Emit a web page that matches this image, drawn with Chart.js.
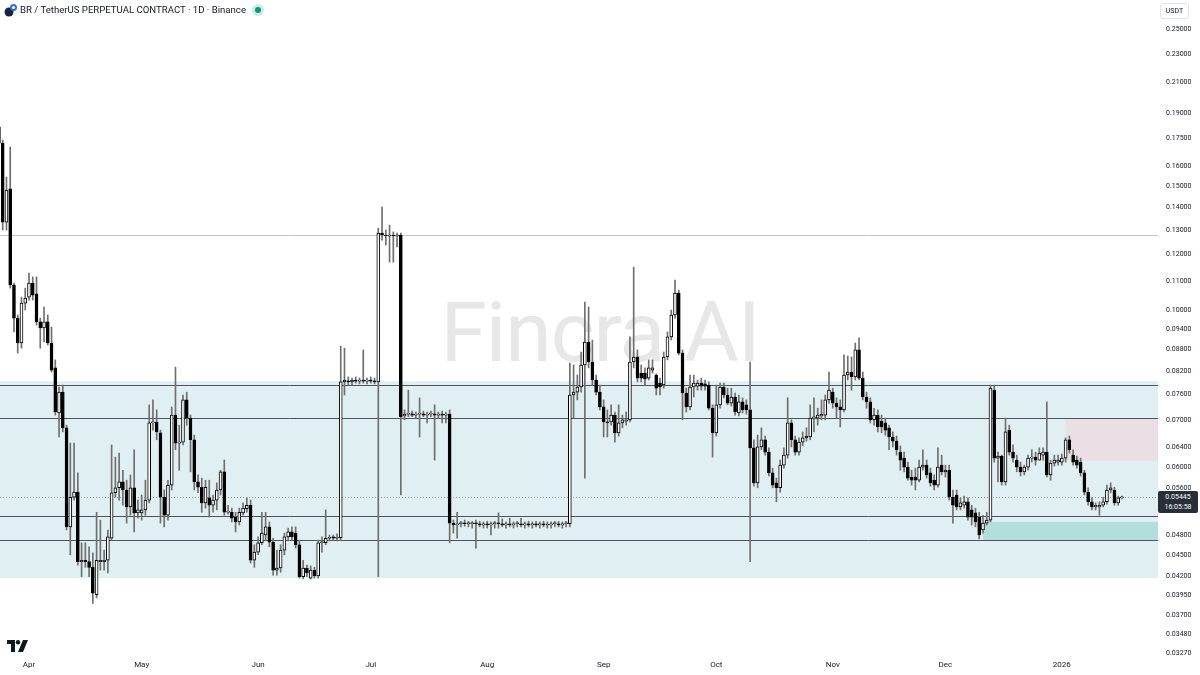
<!DOCTYPE html>
<html>
<head>
<meta charset="utf-8">
<title>BR / TetherUS Perpetual - 1D</title>
<script src="https://cdn.jsdelivr.net/npm/chart.js@4/dist/chart.umd.min.js"></script>
<style>
  body { margin: 0; background: #ffffff; }
  #wrap { position: relative; width: 1200px; height: 675px; overflow: hidden; font-family: Roboto, "Liberation Sans", sans-serif; color: #131722; }
  #chart { position: absolute; left: 0; top: 0; z-index: 1; }
  .over { position: absolute; z-index: 2; white-space: nowrap; }
  #mark { position: absolute; z-index: 0; left: 0; width: 1200px; top: 285px; text-align: center; font-size: 84px; line-height: 96px; font-weight: 400; color: #e7e7e7; letter-spacing: -1px; }
  #legend { left: 4px; top: 2px; font-size: 9.6px; line-height: 16px; display: flex; align-items: center; gap: 2px; }
  #unit { left: 1160px; top: 3px; width: 27px; height: 14px; border: 1px solid #e0e3eb; border-radius: 3px; font-size: 7px; line-height: 14px; text-align: center; }
  #last { left: 1158px; top: 491px; width: 40px; height: 21px; background: #2a2e39; color: #ffffff; font-size: 7px; line-height: 10px; padding-top: 1px; text-align: center; border-radius: 2px; }
  #logo { left: 7px; top: 638px; }
</style>
</head>
<body>
<div id="wrap">
  <div id="mark">Fincra AI</div>
  <canvas id="chart" width="1200" height="675"></canvas>
  <div id="legend" class="over">
    <svg width="14" height="14" viewBox="0 0 14 14"><circle cx="5" cy="9" r="4.5" fill="#1b2340"/><circle cx="9.5" cy="4.5" r="3.5" fill="#2d6be0"/><circle cx="9.5" cy="4.5" r="1.6" fill="#ffffff"/></svg>
    <span>BR / TetherUS PERPETUAL CONTRACT · 1D · Binance</span>
    <svg width="14" height="14" viewBox="0 0 14 14" style="margin-left:3px"><circle cx="7" cy="7" r="6" fill="#089981" opacity="0.2"/><circle cx="7" cy="7" r="3" fill="#089981"/></svg>
  </div>
  <div id="unit" class="over">USDT</div>
  <div id="last" class="over">0.05445<br>16:05:58</div>
  <div id="logo" class="over">
    <svg width="22" height="13" viewBox="0 0 22 13"><path d="M0 0h8v12H4V4H0z" fill="#131722"/><circle cx="11" cy="2.2" r="2.2" fill="#131722"/><path d="M16 0h5l-5 12h-5z" fill="#131722"/></svg>
  </div>
</div>
<script>
const family = 'Roboto, "Liberation Sans", sans-serif';

// daily candles, first one on this date
const firstDate = '2025-03-24';

const opens = [
  0.1817, 0.1724, 0.1333, 0.1485, 0.1086, 0.0975, 0.0899, 0.1024, 0.1044, 0.1093, // Mar 24
  0.1055, 0.0963, 0.0944, 0.0963, 0.0899, 0.0829, 0.0716, 0.0766, 0.0682, 0.0494, // Apr 3
  0.0544, 0.0553, 0.0441, 0.0443, 0.0441, 0.0433, 0.0396, 0.0441, 0.0441, 0.0443, // Apr 13
  0.0476, 0.0552, 0.0561, 0.0572, 0.0557, 0.0527, 0.0561, 0.0517, 0.0517, 0.0522, // Apr 23
  0.0539, 0.0693, 0.0695, 0.0671, 0.0544, 0.0513, 0.0566, 0.0711, 0.0649, 0.0651, // May 3
  0.0747, 0.0704, 0.0656, 0.0572, 0.0562, 0.0534, 0.0543, 0.0530, 0.0539, 0.0557, // May 13
  0.0591, 0.0518, 0.0518, 0.0510, 0.0502, 0.0517, 0.0524, 0.0530, 0.0443, 0.0455, // May 23
  0.0469, 0.0481, 0.0494, 0.0470, 0.0429, 0.0432, 0.0458, 0.0478, 0.0486, 0.0484, // Jun 2
  0.0466, 0.0420, 0.0432, 0.0418, 0.0429, 0.0421, 0.0469, 0.0469, 0.0476, 0.0478, // Jun 12
  0.0476, 0.0477, 0.0792, 0.0794, 0.0792, 0.0797, 0.0794, 0.0797, 0.0794, 0.0797, // Jun 22
  0.0794, 0.0792, 0.1286, 0.1278, 0.1274, 0.1278, 0.1274, 0.1278, 0.0709, 0.0713, // Jul 2
  0.0714, 0.0711, 0.0713, 0.0714, 0.0711, 0.0713, 0.0714, 0.0711, 0.0713, 0.0711, // Jul 12
  0.0713, 0.0500, 0.0497, 0.0499, 0.0500, 0.0499, 0.0499, 0.0500, 0.0499, 0.0497, // Jul 22
  0.0499, 0.0497, 0.0499, 0.0500, 0.0499, 0.0497, 0.0499, 0.0497, 0.0499, 0.0499, // Aug 1
  0.0497, 0.0499, 0.0497, 0.0499, 0.0497, 0.0499, 0.0497, 0.0497, 0.0499, 0.0499, // Aug 11
  0.0497, 0.0499, 0.0499, 0.0759, 0.0766, 0.0779, 0.0837, 0.0902, 0.0845, 0.0797, // Aug 21
  0.0766, 0.0730, 0.0695, 0.0695, 0.0711, 0.0671, 0.0693, 0.0697, 0.0700, 0.0845, // Aug 31
  0.0859, 0.0815, 0.0815, 0.0802, 0.0823, 0.0810, 0.0789, 0.0784, 0.0859, 0.0917, // Sep 10
  0.0985, 0.1058, 0.0870, 0.0764, 0.0730, 0.0779, 0.0781, 0.0789, 0.0787, 0.0784, // Sep 20
  0.0727, 0.0671, 0.0735, 0.0779, 0.0759, 0.0739, 0.0754, 0.0716, 0.0742, 0.0735, // Sep 30
  0.0723, 0.0639, 0.0570, 0.0641, 0.0656, 0.0630, 0.0589, 0.0570, 0.0561, 0.0604, // Oct 10
  0.0624, 0.0693, 0.0656, 0.0630, 0.0651, 0.0660, 0.0662, 0.0704, 0.0704, 0.0709, // Oct 20
  0.0711, 0.0747, 0.0766, 0.0739, 0.0730, 0.0723, 0.0810, 0.0818, 0.0805, 0.0879, // Oct 30
  0.0802, 0.0754, 0.0742, 0.0700, 0.0711, 0.0697, 0.0693, 0.0682, 0.0662, 0.0653, // Nov 9
  0.0630, 0.0618, 0.0600, 0.0581, 0.0581, 0.0575, 0.0600, 0.0604, 0.0589, 0.0575, // Nov 19
  0.0566, 0.0604, 0.0591, 0.0594, 0.0544, 0.0548, 0.0527, 0.0530, 0.0536, 0.0522, // Nov 29
  0.0517, 0.0510, 0.0489, 0.0500, 0.0505, 0.0771, 0.0618, 0.0622, 0.0572, 0.0677, // Dec 9
  0.0630, 0.0614, 0.0600, 0.0591, 0.0600, 0.0618, 0.0620, 0.0614, 0.0624, 0.0630, // Dec 19
  0.0585, 0.0608, 0.0610, 0.0610, 0.0618, 0.0656, 0.0624, 0.0614, 0.0610, 0.0589, // Dec 29
  0.0553, 0.0536, 0.0527, 0.0527, 0.0530, 0.0536, 0.0557, 0.0557, 0.0534, 0.0543  // Jan 8
];

const highs = [
  0.1847, 0.1741, 0.1544, 0.1702, 0.1093, 0.0985, 0.1044, 0.1075, 0.1129, 0.1115,
  0.1115, 0.0975, 0.1011, 0.0985, 0.0947, 0.0851, 0.0779, 0.0784, 0.0688, 0.0649,
  0.0649, 0.0589, 0.0469, 0.0469, 0.0463, 0.0454, 0.0518, 0.0505, 0.0458, 0.0489,
  0.0645, 0.0620, 0.0628, 0.0594, 0.0575, 0.0585, 0.0635, 0.0539, 0.0548, 0.0575,
  0.0735, 0.0747, 0.0723, 0.0677, 0.0557, 0.0575, 0.0730, 0.0831, 0.0688, 0.0759,
  0.0766, 0.0711, 0.0666, 0.0585, 0.0579, 0.0575, 0.0575, 0.0548, 0.0570, 0.0594,
  0.0614, 0.0530, 0.0525, 0.0518, 0.0525, 0.0534, 0.0543, 0.0539, 0.0466, 0.0478,
  0.0518, 0.0518, 0.0502, 0.0476, 0.0458, 0.0466, 0.0484, 0.0492, 0.0494, 0.0494,
  0.0473, 0.0443, 0.0436, 0.0435, 0.0433, 0.0473, 0.0478, 0.0522, 0.0481, 0.0481,
  0.0483, 0.0890, 0.0884, 0.0805, 0.0802, 0.0805, 0.0802, 0.0879, 0.0802, 0.0805,
  0.0802, 0.1307, 0.1400, 0.1299, 0.1320, 0.1291, 0.1286, 0.1286, 0.0723, 0.0771,
  0.0720, 0.0718, 0.0752, 0.0720, 0.0718, 0.0720, 0.0735, 0.0718, 0.0720, 0.0718,
  0.0723, 0.0505, 0.0518, 0.0503, 0.0505, 0.0503, 0.0503, 0.0505, 0.0503, 0.0502,
  0.0503, 0.0502, 0.0503, 0.0517, 0.0507, 0.0502, 0.0508, 0.0502, 0.0503, 0.0508,
  0.0502, 0.0503, 0.0502, 0.0503, 0.0502, 0.0503, 0.0502, 0.0502, 0.0503, 0.0503,
  0.0502, 0.0503, 0.0842, 0.0837, 0.0810, 0.0873, 0.1027, 0.1011, 0.0908, 0.0810,
  0.0784, 0.0747, 0.0723, 0.0735, 0.0718, 0.0735, 0.0711, 0.0718, 0.0917, 0.1151,
  0.0879, 0.0837, 0.0829, 0.0851, 0.0851, 0.0813, 0.0802, 0.0873, 0.0932, 0.1001,
  0.1104, 0.1068, 0.0879, 0.0776, 0.0810, 0.0810, 0.0797, 0.0802, 0.0797, 0.0792,
  0.0735, 0.0784, 0.0789, 0.0789, 0.0776, 0.0776, 0.0764, 0.0759, 0.0752, 0.0747,
  0.0845, 0.0656, 0.0666, 0.0682, 0.0664, 0.0639, 0.0598, 0.0579, 0.0614, 0.0639,
  0.0752, 0.0700, 0.0664, 0.0660, 0.0673, 0.0682, 0.0735, 0.0752, 0.0727, 0.0747,
  0.0759, 0.0818, 0.0776, 0.0752, 0.0747, 0.0865, 0.0862, 0.0859, 0.0899, 0.0914,
  0.0818, 0.0766, 0.0752, 0.0727, 0.0723, 0.0711, 0.0704, 0.0688, 0.0673, 0.0664,
  0.0643, 0.0630, 0.0610, 0.0594, 0.0598, 0.0614, 0.0635, 0.0614, 0.0598, 0.0585,
  0.0639, 0.0624, 0.0604, 0.0604, 0.0557, 0.0557, 0.0543, 0.0546, 0.0543, 0.0530,
  0.0525, 0.0518, 0.0513, 0.0518, 0.0784, 0.0784, 0.0630, 0.0624, 0.0704, 0.0688,
  0.0645, 0.0624, 0.0610, 0.0604, 0.0624, 0.0635, 0.0630, 0.0639, 0.0639, 0.0742,
  0.0614, 0.0624, 0.0624, 0.0626, 0.0660, 0.0664, 0.0635, 0.0622, 0.0618, 0.0594,
  0.0561, 0.0543, 0.0534, 0.0536, 0.0544, 0.0566, 0.0570, 0.0562, 0.0546, 0.0546
];

const lows = [
  0.1708, 0.1299, 0.1299, 0.1075, 0.0932, 0.0870, 0.0884, 0.1001, 0.1034, 0.1034,
  0.0953, 0.0884, 0.0902, 0.0893, 0.0818, 0.0711, 0.0662, 0.0673, 0.0489, 0.0451,
  0.0539, 0.0436, 0.0420, 0.0433, 0.0420, 0.0385, 0.0392, 0.0429, 0.0429, 0.0425,
  0.0473, 0.0544, 0.0539, 0.0530, 0.0500, 0.0513, 0.0486, 0.0508, 0.0505, 0.0513,
  0.0534, 0.0677, 0.0656, 0.0500, 0.0494, 0.0505, 0.0557, 0.0635, 0.0594, 0.0645,
  0.0688, 0.0591, 0.0557, 0.0552, 0.0518, 0.0525, 0.0510, 0.0518, 0.0522, 0.0548,
  0.0513, 0.0515, 0.0502, 0.0486, 0.0497, 0.0513, 0.0518, 0.0439, 0.0433, 0.0451,
  0.0466, 0.0473, 0.0463, 0.0422, 0.0422, 0.0426, 0.0451, 0.0473, 0.0473, 0.0461,
  0.0418, 0.0417, 0.0420, 0.0417, 0.0418, 0.0418, 0.0455, 0.0466, 0.0472, 0.0473,
  0.0472, 0.0473, 0.0759, 0.0784, 0.0784, 0.0789, 0.0787, 0.0789, 0.0787, 0.0789,
  0.0787, 0.0420, 0.1257, 0.1237, 0.1170, 0.1170, 0.1229, 0.0548, 0.0700, 0.0707,
  0.0707, 0.0704, 0.0662, 0.0707, 0.0693, 0.0707, 0.0614, 0.0704, 0.0693, 0.0693,
  0.0469, 0.0484, 0.0476, 0.0494, 0.0495, 0.0494, 0.0492, 0.0461, 0.0494, 0.0492,
  0.0492, 0.0481, 0.0492, 0.0492, 0.0494, 0.0492, 0.0494, 0.0492, 0.0494, 0.0494,
  0.0492, 0.0494, 0.0492, 0.0494, 0.0492, 0.0494, 0.0492, 0.0492, 0.0494, 0.0494,
  0.0492, 0.0494, 0.0494, 0.0704, 0.0747, 0.0766, 0.0579, 0.0829, 0.0784, 0.0759,
  0.0723, 0.0662, 0.0662, 0.0688, 0.0651, 0.0664, 0.0682, 0.0688, 0.0695, 0.0829,
  0.0792, 0.0792, 0.0784, 0.0797, 0.0815, 0.0759, 0.0759, 0.0776, 0.0851, 0.0908,
  0.0975, 0.0865, 0.0700, 0.0718, 0.0723, 0.0754, 0.0771, 0.0771, 0.0771, 0.0723,
  0.0620, 0.0664, 0.0727, 0.0752, 0.0735, 0.0732, 0.0711, 0.0709, 0.0716, 0.0713,
  0.0441, 0.0564, 0.0561, 0.0635, 0.0624, 0.0583, 0.0561, 0.0536, 0.0553, 0.0598,
  0.0618, 0.0641, 0.0624, 0.0624, 0.0643, 0.0653, 0.0656, 0.0673, 0.0688, 0.0700,
  0.0700, 0.0739, 0.0727, 0.0704, 0.0684, 0.0718, 0.0797, 0.0771, 0.0797, 0.0797,
  0.0747, 0.0727, 0.0693, 0.0688, 0.0673, 0.0671, 0.0666, 0.0635, 0.0641, 0.0624,
  0.0594, 0.0591, 0.0575, 0.0566, 0.0557, 0.0572, 0.0594, 0.0579, 0.0564, 0.0557,
  0.0562, 0.0585, 0.0581, 0.0539, 0.0500, 0.0522, 0.0522, 0.0525, 0.0505, 0.0497,
  0.0494, 0.0475, 0.0484, 0.0497, 0.0502, 0.0610, 0.0572, 0.0566, 0.0566, 0.0624,
  0.0610, 0.0591, 0.0583, 0.0585, 0.0594, 0.0610, 0.0604, 0.0614, 0.0614, 0.0581,
  0.0575, 0.0602, 0.0604, 0.0604, 0.0610, 0.0628, 0.0604, 0.0598, 0.0583, 0.0548,
  0.0530, 0.0522, 0.0522, 0.0513, 0.0527, 0.0532, 0.0552, 0.0530, 0.0530, 0.0541
];

const closes = [
  0.1724, 0.1333, 0.1480, 0.1086, 0.0975, 0.0899, 0.1024, 0.1041, 0.1093, 0.1051,
  0.0963, 0.0944, 0.0963, 0.0899, 0.0823, 0.0718, 0.0766, 0.0682, 0.0494, 0.0544,
  0.0553, 0.0441, 0.0443, 0.0441, 0.0433, 0.0398, 0.0443, 0.0443, 0.0443, 0.0478,
  0.0552, 0.0561, 0.0572, 0.0557, 0.0527, 0.0561, 0.0517, 0.0522, 0.0522, 0.0539,
  0.0693, 0.0695, 0.0673, 0.0544, 0.0513, 0.0566, 0.0711, 0.0649, 0.0651, 0.0747,
  0.0704, 0.0656, 0.0572, 0.0562, 0.0534, 0.0562, 0.0530, 0.0539, 0.0557, 0.0591,
  0.0518, 0.0520, 0.0508, 0.0502, 0.0518, 0.0525, 0.0530, 0.0443, 0.0455, 0.0469,
  0.0484, 0.0494, 0.0470, 0.0429, 0.0432, 0.0458, 0.0478, 0.0486, 0.0478, 0.0466,
  0.0420, 0.0432, 0.0425, 0.0429, 0.0421, 0.0469, 0.0470, 0.0476, 0.0477, 0.0476,
  0.0477, 0.0792, 0.0797, 0.0792, 0.0797, 0.0794, 0.0797, 0.0794, 0.0797, 0.0794,
  0.0792, 0.1286, 0.1278, 0.1274, 0.1278, 0.1274, 0.1276, 0.0707, 0.0713, 0.0714,
  0.0711, 0.0713, 0.0714, 0.0711, 0.0713, 0.0714, 0.0711, 0.0713, 0.0711, 0.0713,
  0.0500, 0.0497, 0.0499, 0.0500, 0.0499, 0.0499, 0.0500, 0.0499, 0.0497, 0.0499,
  0.0497, 0.0499, 0.0500, 0.0499, 0.0497, 0.0499, 0.0497, 0.0499, 0.0499, 0.0497,
  0.0499, 0.0497, 0.0499, 0.0497, 0.0499, 0.0497, 0.0497, 0.0499, 0.0499, 0.0497,
  0.0499, 0.0499, 0.0759, 0.0766, 0.0779, 0.0837, 0.0902, 0.0845, 0.0797, 0.0766,
  0.0730, 0.0695, 0.0693, 0.0711, 0.0671, 0.0693, 0.0700, 0.0700, 0.0845, 0.0859,
  0.0802, 0.0802, 0.0799, 0.0829, 0.0829, 0.0776, 0.0779, 0.0859, 0.0917, 0.0985,
  0.1058, 0.0870, 0.0764, 0.0730, 0.0779, 0.0789, 0.0789, 0.0781, 0.0781, 0.0727,
  0.0671, 0.0735, 0.0779, 0.0759, 0.0739, 0.0754, 0.0718, 0.0742, 0.0723, 0.0723,
  0.0639, 0.0570, 0.0641, 0.0656, 0.0630, 0.0589, 0.0566, 0.0561, 0.0604, 0.0624,
  0.0693, 0.0656, 0.0630, 0.0651, 0.0660, 0.0664, 0.0704, 0.0707, 0.0711, 0.0713,
  0.0747, 0.0771, 0.0739, 0.0730, 0.0723, 0.0810, 0.0818, 0.0805, 0.0879, 0.0802,
  0.0754, 0.0742, 0.0700, 0.0711, 0.0684, 0.0684, 0.0677, 0.0662, 0.0653, 0.0635,
  0.0614, 0.0600, 0.0579, 0.0575, 0.0575, 0.0600, 0.0604, 0.0585, 0.0570, 0.0566,
  0.0600, 0.0591, 0.0594, 0.0544, 0.0530, 0.0527, 0.0534, 0.0536, 0.0510, 0.0510,
  0.0502, 0.0481, 0.0500, 0.0505, 0.0776, 0.0618, 0.0622, 0.0572, 0.0673, 0.0630,
  0.0618, 0.0600, 0.0591, 0.0600, 0.0618, 0.0620, 0.0614, 0.0628, 0.0630, 0.0585,
  0.0608, 0.0614, 0.0614, 0.0618, 0.0656, 0.0635, 0.0610, 0.0604, 0.0589, 0.0553,
  0.0536, 0.0527, 0.0530, 0.0530, 0.0536, 0.0557, 0.0561, 0.0534, 0.0543, 0.05445
];

// price scale labels on the right
const priceTicks = [0.25, 0.23, 0.21, 0.19, 0.175, 0.16, 0.15, 0.14, 0.13, 0.12, 0.11, 0.10,
  0.094, 0.088, 0.082, 0.076, 0.070, 0.064, 0.060, 0.056, 0.052, 0.048, 0.045, 0.042,
  0.0395, 0.037, 0.0348, 0.0327];

// time scale labels
const monthStarts = ['2025-04-01', '2025-05-01', '2025-06-01', '2025-07-01', '2025-08-01',
  '2025-09-01', '2025-10-01', '2025-11-01', '2025-12-01', '2026-01-01'];
const monthLabels = ['Apr', 'May', 'Jun', 'Jul', 'Aug', 'Sep', 'Oct', 'Nov', 'Dec', '2026'];

// drawn levels and boxes (prices)
const zones = [
  { from: null, high: 0.0794, low: 0.0418, color: '#e0eff2' },
  { from: '2025-12-11', high: 0.0502, low: 0.0473, color: '#b3dfdb' },
  { from: '2026-01-02', high: 0.0704, low: 0.0612, color: '#e9dfe4' }
];
const levels = [
  { price: 0.1277, color: '#c3c5cb' },
  { price: 0.0785, color: '#50535e' },
  { price: 0.0704, color: '#50535e' },
  { price: 0.0512, color: '#50535e' },
  { price: 0.0473, color: '#50535e' },
  { price: 0.05445, color: '#9598a1', dash: [1, 2] }
];

const dayMs = 86400000;
const origin = Date.UTC(2025, 3, 1);
const dayOf = s => Math.round((Date.parse(s + 'T00:00:00Z') - origin) / dayMs);
const firstDay = dayOf(firstDate);
const days = opens.map((_, i) => firstDay + i);
const monthDays = monthStarts.map(dayOf);

const wickData = days.map((d, i) => ({ x: d, y: [lows[i], highs[i]] }));
const bodyData = days.map((d, i) => ({ x: d, y: [opens[i], closes[i]] }));
const bodyFill = days.map((d, i) => closes[i] >= opens[i] ? '#ffffff' : '#000000');

const drawings = {
  id: 'drawings',
  beforeDatasetsDraw(chart) {
    const { ctx, chartArea: area, scales: { x, y } } = chart;
    ctx.save();
    zones.forEach(z => {
      const left = z.from === null ? area.left : x.getPixelForValue(dayOf(z.from));
      const top = y.getPixelForValue(z.high);
      const bottom = y.getPixelForValue(z.low);
      ctx.fillStyle = z.color;
      ctx.fillRect(left, top, area.right - left, bottom - top);
    });
    levels.forEach(l => {
      const py = Math.round(y.getPixelForValue(l.price)) + 0.5;
      ctx.strokeStyle = l.color;
      ctx.lineWidth = 1;
      ctx.setLineDash(l.dash || []);
      ctx.beginPath();
      ctx.moveTo(area.left, py);
      ctx.lineTo(area.right, py);
      ctx.stroke();
    });
    ctx.restore();
  },
  afterDraw(chart) {
    const py = chart.scales.y.getPixelForValue(closes[closes.length - 1]);
    document.getElementById('last').style.top = Math.round(py - 6) + 'px';
  }
};

// keep the plot flush with the canvas edges
const noPad = s => { s.paddingTop = 0; s.paddingBottom = 0; s.paddingLeft = 0; s.paddingRight = 0; };

new Chart(document.getElementById('chart'), {
  type: 'bar',
  data: {
    datasets: [
      {
        data: bodyData,
        backgroundColor: bodyFill,
        borderColor: '#000000',
        borderWidth: 1,
        borderSkipped: false,
        barThickness: 3,
        minBarLength: 1,
        grouped: false,
        order: 1
      },
      {
        data: wickData,
        backgroundColor: '#6f6f6f',
        borderWidth: 0,
        barThickness: 1,
        grouped: false,
        order: 2
      }
    ]
  },
  options: {
    responsive: false,
    animation: false,
    devicePixelRatio: 1,
    layout: { padding: 0 },
    plugins: { legend: { display: false }, tooltip: { enabled: false } },
    scales: {
      x: {
        type: 'linear',
        offset: false,
        min: -7.72,
        max: 300.6,
        grid: { display: false, drawTicks: false },
        border: { display: false },
        afterFit: s => { s.height = 20; noPad(s); },
        afterBuildTicks: s => { s.ticks = monthDays.map(v => ({ value: v })); },
        ticks: {
          autoSkip: false,
          maxRotation: 0,
          padding: 5,
          color: '#131722',
          font: { family, size: 8 },
          callback: v => monthLabels[monthDays.indexOf(v)]
        }
      },
      y: {
        type: 'logarithmic',
        position: 'right',
        min: 0.03254,
        max: 0.2748,
        grid: { display: false, drawTicks: false },
        border: { display: false },
        afterFit: s => { s.width = 42; noPad(s); },
        afterBuildTicks: s => { s.ticks = priceTicks.map(v => ({ value: v })); },
        ticks: {
          autoSkip: false,
          padding: 8,
          color: '#131722',
          font: { family, size: 7 },
          callback: v => Number(v).toFixed(5)
        }
      }
    }
  },
  plugins: [drawings]
});
</script>
</body>
</html>
